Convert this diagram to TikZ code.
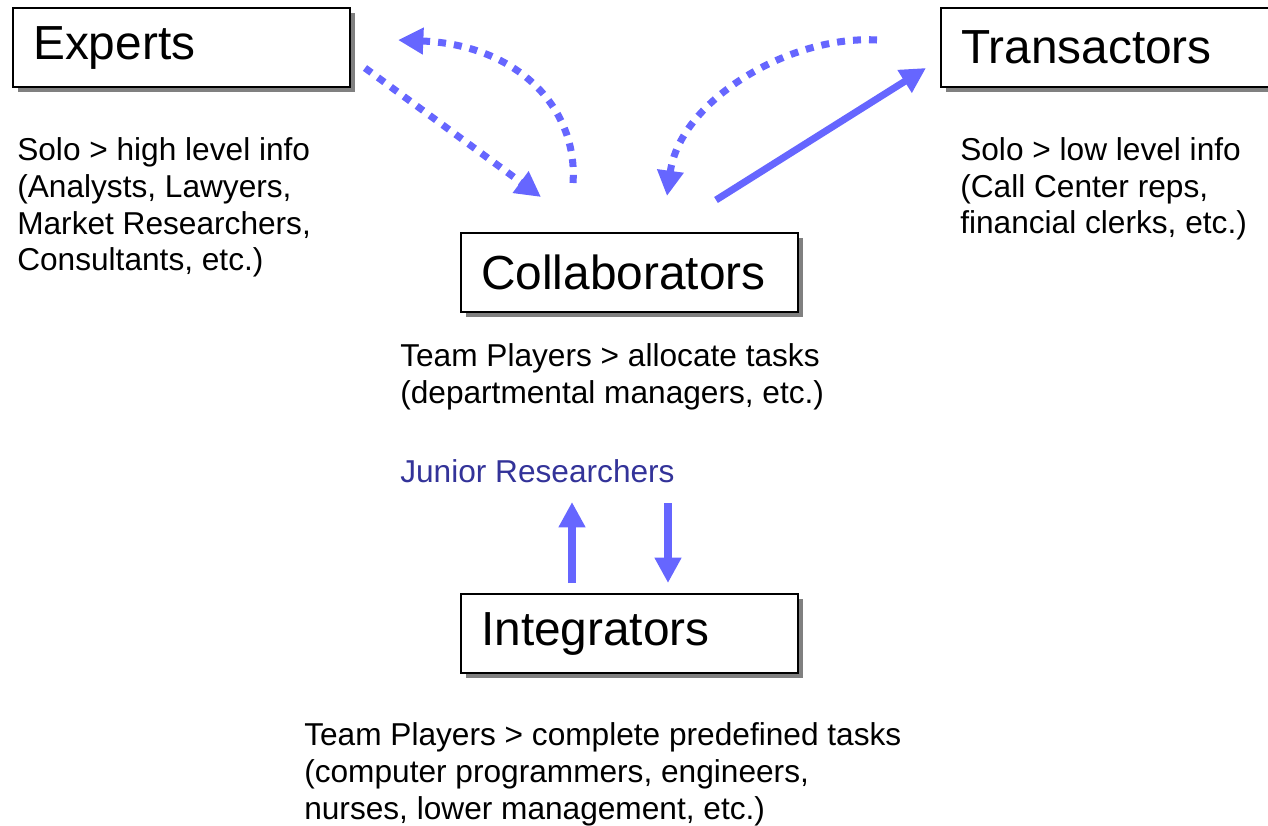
\documentclass[tikz,border=0pt]{standalone}
\usepackage{fontspec}
\setmainfont{Liberation Sans}
\usetikzlibrary{arrows.meta,shadows}

\definecolor{flowblue}{HTML}{6666FF}
\definecolor{juniorblue}{HTML}{333399}

\begin{document}
\begin{tikzpicture}[x=0.025cm,y=0.025cm]
\tikzstyle{role}=[draw=black, line width=1.6pt, fill=white, anchor=north west, minimum width=8.425cm, minimum height=1.975cm, text width=7.425cm, inner xsep=0.5cm, align=left, font=\fontsize{34}{40}\selectfont, drop shadow={shadow xshift=3.5pt, shadow yshift=-3.5pt, fill=gray, opacity=1}]
\tikzstyle{desc}=[anchor=base west, align=left, inner sep=0pt, font=\fontsize{22.5}{26.3}\selectfont]
\tikzstyle{flow}=[draw=flowblue, line width=5pt, -{Triangle[length=18pt,width=18pt]}]
\tikzstyle{dots}=[flow, dash pattern=on 5.7pt off 5.7pt]
\useasboundingbox (0,0) rectangle (1268,-826);
% the four roles
\node [role] (experts) at (12,-7) {Experts};
\node [role] (transactors) at (940,-7) {Transactors};
\node [role] (collab) at (460,-232) {Collaborators};
\node [role] (integr) at (460,-593) {Integrators};
% what they do (anchored at the last baseline)
\node [desc] (expertsinfo) at (17,-271) {Solo > high level info\\(Analysts, Lawyers,\\Market Researchers,\\Consultants, etc.)};
\node [desc] (transinfo) at (960,-234) {Solo > low level info\\(Call Center reps,\\financial clerks, etc.)};
\node [desc] (collabinfo) at (400,-403) {Team Players > allocate tasks\\(departmental managers, etc.)};
\node [desc, text=juniorblue] (junior) at (400,-482) {Junior Researchers};
\node [desc] (integrinfo) at (304,-819) {Team Players > complete predefined tasks\\(computer programmers, engineers,\\nurses, lower management, etc.)};
% arrow ends
\coordinate (e-out) at (365,-68);
\coordinate (c-in) at (541,-197);
\coordinate (c-up) at (573,-183);
\coordinate (e-in) at (398,-40);
\coordinate (t-out) at (877,-40);
\coordinate (c-in2) at (667,-196);
\coordinate (c-out) at (716,-200);
\coordinate (t-in) at (926,-68);
\coordinate (i-up) at (572,-583);
\coordinate (j-in) at (572,-502);
\coordinate (j-out) at (668,-503);
\coordinate (i-in) at (668,-583);
% arrows
\draw [dots] (e-out) -- (c-in);
\draw [dots] (c-up) .. controls (578,-110) and (520,-45) .. (e-in);
\draw [dots] (t-out) .. controls (790,-35) and (680,-100) .. (c-in2);
\draw [flow] (c-out) -- (t-in);
\draw [flow] (i-up) -- (j-in);
\draw [flow] (j-out) -- (i-in);
\end{tikzpicture}
\end{document}
